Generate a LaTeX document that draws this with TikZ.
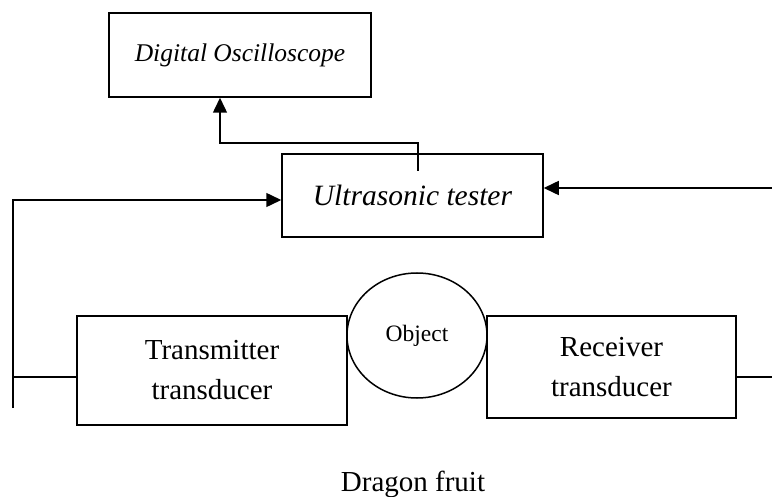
\documentclass[tikz,border=0pt]{standalone}
\usepackage{fontspec}
\setmainfont{Liberation Serif}
\usetikzlibrary{shapes.geometric,arrows.meta,positioning,calc}
\tikzset{
  >={Triangle[length=15pt,width=14pt]},
  blockbox/.style={rectangle,draw,line width=1.5pt,inner sep=0pt,align=center,
                   font=\fontsize{29}{40}\selectfont},
  arr/.style={->,line width=1.5pt},
  wire/.style={line width=1.5pt},
}
\begin{document}
\begin{tikzpicture}[x=1pt,y=-1pt,
      objshape/.style={ellipse,draw,line width=1.5pt,inner sep=0pt,
                       minimum width=140pt,minimum height=125pt,
                       font=\fontsize{23.5}{28}\selectfont}]
    \useasboundingbox (0,0) rectangle (772,497);

    \node[blockbox,minimum width=262pt,minimum height=84pt,
          font=\fontsize{25.5}{30}\selectfont\itshape] (OSC)    at (240,55)    {Digital Oscilloscope};
    \node[blockbox,minimum width=261pt,minimum height=83pt,
          font=\fontsize{29.5}{36}\selectfont\itshape] (TESTER) at (412.5,195.5) {Ultrasonic tester};
    \node[blockbox,minimum width=270pt,minimum height=109pt] (TX) at (212,370.5) {Transmitter\\transducer};
    \node[blockbox,minimum width=249pt,minimum height=102pt] (RX) at (611.5,367)  {Receiver\\transducer};
    \node[objshape] (OBJ) at (417,335.5) {\raisebox{5pt}{Object}};
    \node[font=\fontsize{29}{36}\selectfont] (FRUIT) at (413,484) {Dragon fruit};

    \coordinate (TAP)  at (418,171);
    \coordinate (LBOT) at (13,408);
    \coordinate (RIN)  at (772,188);

    \draw[arr]  (TAP) -- ++(0,-28) -| ([xshift=-20pt]OSC.south);
    \draw[arr]  (LBOT) |- ([yshift=-4.5pt]TESTER.west);
    \draw[wire] ([yshift=-6.5pt]TX.west) -- ++(-64,0);
    \draw[arr]  (RIN) -- (RIN -| TESTER.east);
    \draw[wire] ([yshift=-10pt]RX.east) -- ++(36,0);
  \end{tikzpicture}
\end{document}
